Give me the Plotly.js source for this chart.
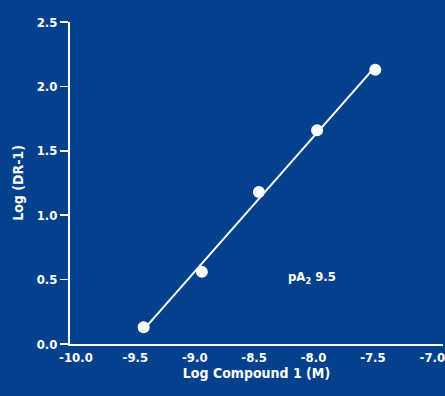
<!DOCTYPE html>
<html><head><meta charset="utf-8">
<script src="https://cdn.plot.ly/plotly-3.0.1.min.js"></script>
<style>html,body{margin:0;padding:0;background:#04418d;}</style>
</head><body>
<div id="chart" style="width:445px;height:396px;"></div>
<script>
var logConc = [-9.43, -8.94, -8.46, -7.97, -7.48];
var logDR1 = [0.13, 0.56, 1.18, 1.66, 2.13];
var xTicks = [-10.0, -9.5, -9.0, -8.5, -8.0, -7.5, -7.0];
var xTickLabels = ['-10.0', '-9.5', '-9.0', '-8.5', '-8.0', '-7.5', '-7.0'];
var yTicks = [0.0, 0.5, 1.0, 1.5, 2.0, 2.5];
var yTickLabels = ['0.0', '0.5', '1.0', '1.5', '2.0', '2.5'];

// least-squares fit
var n = logConc.length, mx = 0, my = 0;
for (var i = 0; i < n; i++) { mx += logConc[i]; my += logDR1[i]; }
mx /= n; my /= n;
var sxy = 0, sxx = 0;
for (var i = 0; i < n; i++) { sxy += (logConc[i]-mx)*(logDR1[i]-my); sxx += (logConc[i]-mx)*(logConc[i]-mx); }
var slope = sxy / sxx, icpt = my - slope * mx;
var fitX = [logConc[0], logConc[n-1]];
var fitY = fitX.map(function(x){ return icpt + slope * x; });

var FONT = 'DejaVu Sans Condensed, Liberation Sans Narrow, sans-serif';
var data = [
  {x: fitX, y: fitY, mode: 'lines', line: {color: '#ffffff', width: 2}, hoverinfo: 'skip'},
  {x: logConc, y: logDR1, mode: 'markers', marker: {color: '#ffffff', size: 12}}
];
var layout = {
  width: 445, height: 396,
  paper_bgcolor: '#04418d', plot_bgcolor: '#04418d',
  showlegend: false,
  margin: {l: 70, r: 2, t: 22, b: 52},
  font: {family: FONT, color: '#ffffff', size: 13, weight: 'bold'},
  xaxis: {
    range: [-10.05, -6.91], showgrid: false, zeroline: false,
    showline: true, linecolor: '#ffffff', linewidth: 2,
    tickmode: 'array', tickvals: xTicks, ticktext: xTickLabels,
    ticklabeloverflow: 'allow',
    ticks: '', tickfont: {family: FONT, size: 13, color: '#ffffff', weight: 'bold'},
    title: {text: 'Log Compound 1 (M)', font: {family: FONT, size: 14, color: '#ffffff', weight: 'bold'}, standoff: 4}
  },
  yaxis: {
    range: [0, 2.5], showgrid: false, zeroline: false,
    showline: true, linecolor: '#ffffff', linewidth: 2,
    tickmode: 'array', tickvals: yTicks, ticktext: yTickLabels,
    ticks: 'outside', ticklen: 8, tickwidth: 1.5, tickcolor: '#ffffff',
    tickfont: {family: FONT, size: 13, color: '#ffffff', weight: 'bold'},
    title: {text: 'Log (DR-1)', font: {family: FONT, size: 14, color: '#ffffff', weight: 'bold'}, standoff: 10}
  },
  annotations: [{
    x: -8.01, y: 0.52, xref: 'x', yref: 'y', showarrow: false,
    text: 'pA<sub>2</sub> 9.5',
    font: {family: FONT, size: 13, color: '#ffffff', weight: 'bold'}
  }]
};
Plotly.newPlot('chart', data, layout, {displayModeBar: false, staticPlot: true});
</script>
</body></html>
